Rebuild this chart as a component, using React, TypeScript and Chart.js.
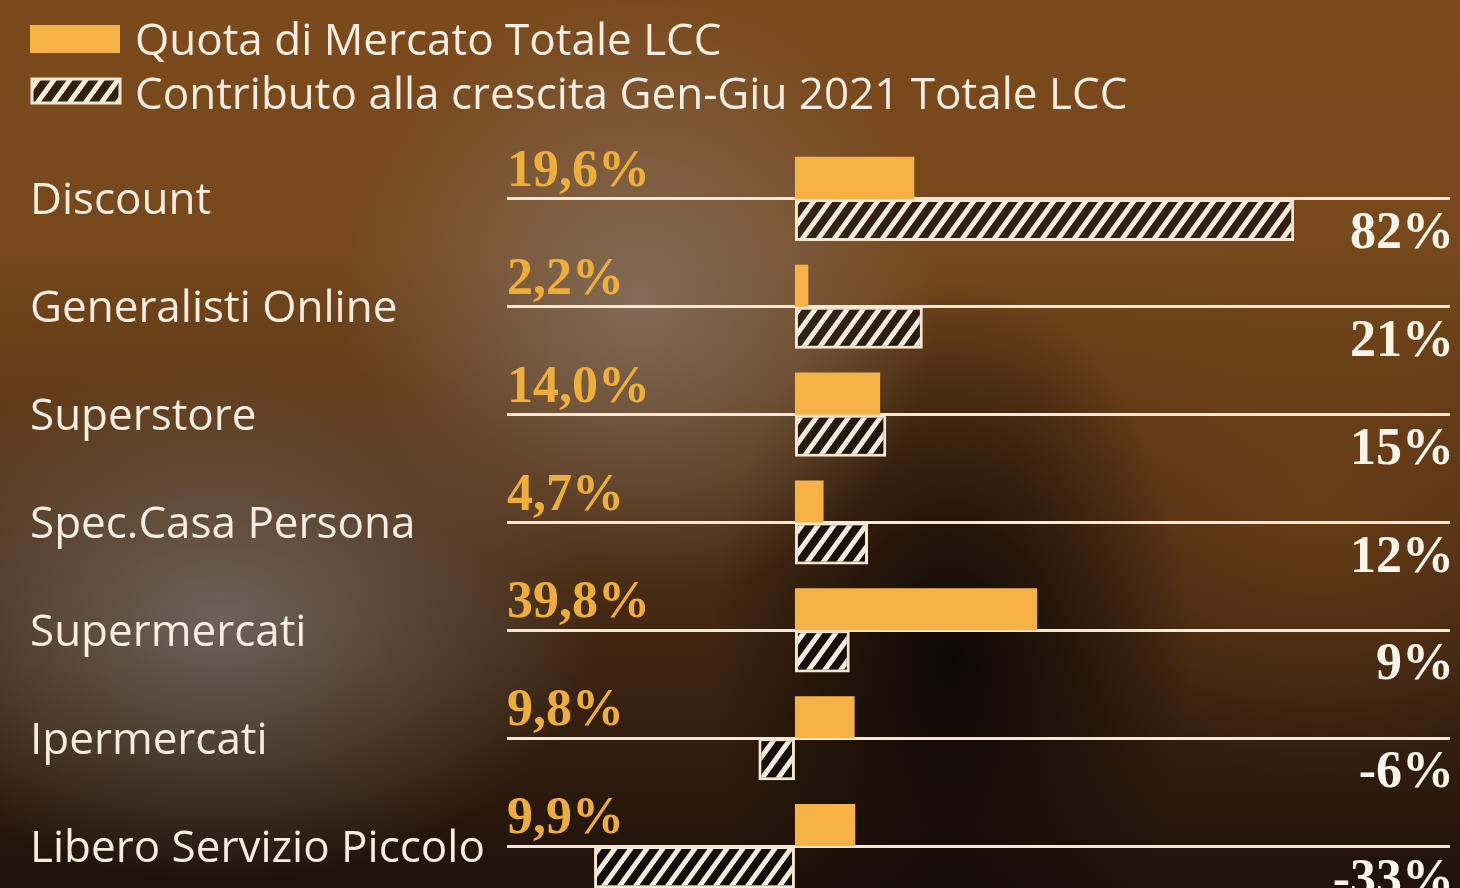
import React, { useEffect, useRef } from "react";
import { Chart, registerables } from "chart.js";

Chart.register(...registerables);

const categories = [
  "Discount",
  "Generalisti Online",
  "Superstore",
  "Spec.Casa Persona",
  "Supermercati",
  "Ipermercati",
  "Libero Servizio Piccolo",
];
const quotaValues = [19.6, 2.2, 14.0, 4.7, 39.8, 9.8, 9.9];
const contribValues = [82, 21, 15, 12, 9, -6, -33];
const quotaLabels = ["19,6%", "2,2%", "14,0%", "4,7%", "39,8%", "9,8%", "9,9%"];
const contribLabels = ["82%", "21%", "15%", "12%", "9%", "-6%", "-33%"];
const legendLabels = [
  "Quota di Mercato Totale LCC",
  "Contributo alla crescita Gen-Giu 2021 Totale LCC",
];

const ORANGE = "#f6b246";
const GOLD = "#edae3c";
const CREAM = "#f5e7d2";
const TEXT = "#f6ece0";
const SANS = "'Open Sans', 'Noto Sans', sans-serif";
const SERIF = "'Liberation Serif', 'DejaVu Serif', serif";

function makeHatch(): CanvasPattern | string {
  const w = 16;
  const h = 22;
  const c = document.createElement("canvas");
  c.width = w;
  c.height = h;
  const g = c.getContext("2d");
  if (!g) return "#555";
  g.fillStyle = "rgba(14,10,9,0.66)";
  g.fillRect(0, 0, w, h);
  g.strokeStyle = "#f6ebdc";
  g.lineWidth = 5;
  for (const k of [0, w, 2 * w]) {
    g.beginPath();
    g.moveTo(k + w * 0.4, -h * 0.4);
    g.lineTo(k - w * 1.4, h * 1.4);
    g.stroke();
  }
  return g.createPattern(c, "repeat") || "#555";
}

const legendPlugin = {
  id: "customLegend",
  afterDraw(chart: any) {
    const ctx = chart.ctx;
    const ds = chart.data.datasets;
    ctx.save();
    ctx.fillStyle = ds[0].backgroundColor;
    ctx.fillRect(30, 25, 90, 28);
    ctx.fillStyle = ds[1].backgroundColor;
    ctx.fillRect(32, 79, 88, 24);
    ctx.strokeStyle = CREAM;
    ctx.lineWidth = 3;
    ctx.strokeRect(32, 79, 88, 24);
    ctx.fillStyle = TEXT;
    ctx.font = `44px ${SANS}`;
    ctx.textAlign = "left";
    ctx.textBaseline = "alphabetic";
    ctx.fillText(legendLabels[0], 135, 55);
    ctx.fillText(legendLabels[1], 135, 109);
    ctx.restore();
  },
};

const valueLabelPlugin = {
  id: "valueLabels",
  afterDraw(chart: any) {
    const ctx = chart.ctx;
    const y = chart.scales.y;
    const area = chart.chartArea;
    ctx.save();
    ctx.font = `bold 52px ${SERIF}`;
    ctx.textBaseline = "alphabetic";
    categories.forEach((_, i) => {
      const py = y.getPixelForTick(i);
      ctx.textAlign = "left";
      ctx.fillStyle = GOLD;
      ctx.fillText(quotaLabels[i], area.left, py - 13);
      ctx.textAlign = "right";
      ctx.fillStyle = "#fbf4e8";
      ctx.fillText(contribLabels[i], area.right + 4, py + 49);
    });
    ctx.restore();
  },
};

export default function App() {
  const ref = useRef<HTMLCanvasElement | null>(null);

  useEffect(() => {
    let chart: Chart | null = null;
    let cancelled = false;
    const build = () => {
      if (cancelled || !ref.current) return;
      const hatch = makeHatch();
      chart = new Chart(ref.current, {
        type: "bar",
        data: {
          labels: categories,
          datasets: [
            {
              label: legendLabels[0],
              data: quotaValues,
              backgroundColor: ORANGE,
              borderWidth: 0,
              categoryPercentage: 0.78,
              barPercentage: 1,
            },
            {
              label: legendLabels[1],
              data: contribValues,
              backgroundColor: hatch as any,
              borderColor: CREAM,
              borderWidth: 3,
              borderSkipped: false,
              categoryPercentage: 0.78,
              barPercentage: 1,
            },
          ],
        },
        options: {
          indexAxis: "y",
          responsive: false,
          devicePixelRatio: 1,
          animation: false,
          layout: { padding: { top: 145, left: 30, right: 10, bottom: 40 } },
          plugins: { legend: { display: false }, tooltip: { enabled: false } },
          scales: {
            x: { type: "linear", min: -47.3, max: 107.6, display: false },
            y: {
              type: "category",
              position: "left",
              z: 1,
              grid: {
                display: true,
                offset: false,
                color: CREAM,
                lineWidth: 3,
                drawTicks: false,
              },
              border: { display: false },
              ticks: {
                crossAlign: "far",
                padding: 0,
                labelOffset: 3,
                color: TEXT,
                font: { family: SANS, size: 44 },
              },
              afterFit(scale: any) {
                scale.width = 477;
              },
            },
          },
        } as any,
        plugins: [legendPlugin, valueLabelPlugin],
      });
    };
    const fonts: any = (document as any).fonts;
    if (fonts && fonts.load) {
      Promise.all([
        fonts.load(`44px 'Open Sans'`),
        fonts.load(`bold 52px 'Liberation Serif'`),
      ])
        .catch(() => null)
        .then(build);
    } else {
      build();
    }
    return () => {
      cancelled = true;
      if (chart) chart.destroy();
    };
  }, []);

  return (
    <div
      style={{
        position: "fixed",
        top: 0,
        left: 0,
        width: 1460,
        height: 888,
        overflow: "hidden",
        background: [
          "radial-gradient(ellipse 300px 300px at 640px 300px, rgba(135,120,108,0.75), rgba(135,120,108,0))",
          "radial-gradient(ellipse 380px 260px at 220px 620px, rgba(116,108,102,0.85), rgba(116,108,102,0))",
          "radial-gradient(ellipse 240px 380px at 950px 660px, rgba(12,7,4,0.97), rgba(12,7,4,0))",
          "radial-gradient(ellipse 300px 280px at 1320px 500px, rgba(120,70,24,0.55), rgba(120,70,24,0))",
          "linear-gradient(to bottom, #7b4a1c 0%, #76481c 28%, #4c2d14 62%, #1e120a 100%)",
        ].join(", "),
      }}
    >
      <canvas ref={ref} width={1460} height={940} style={{ display: "block" }} />
    </div>
  );
}
